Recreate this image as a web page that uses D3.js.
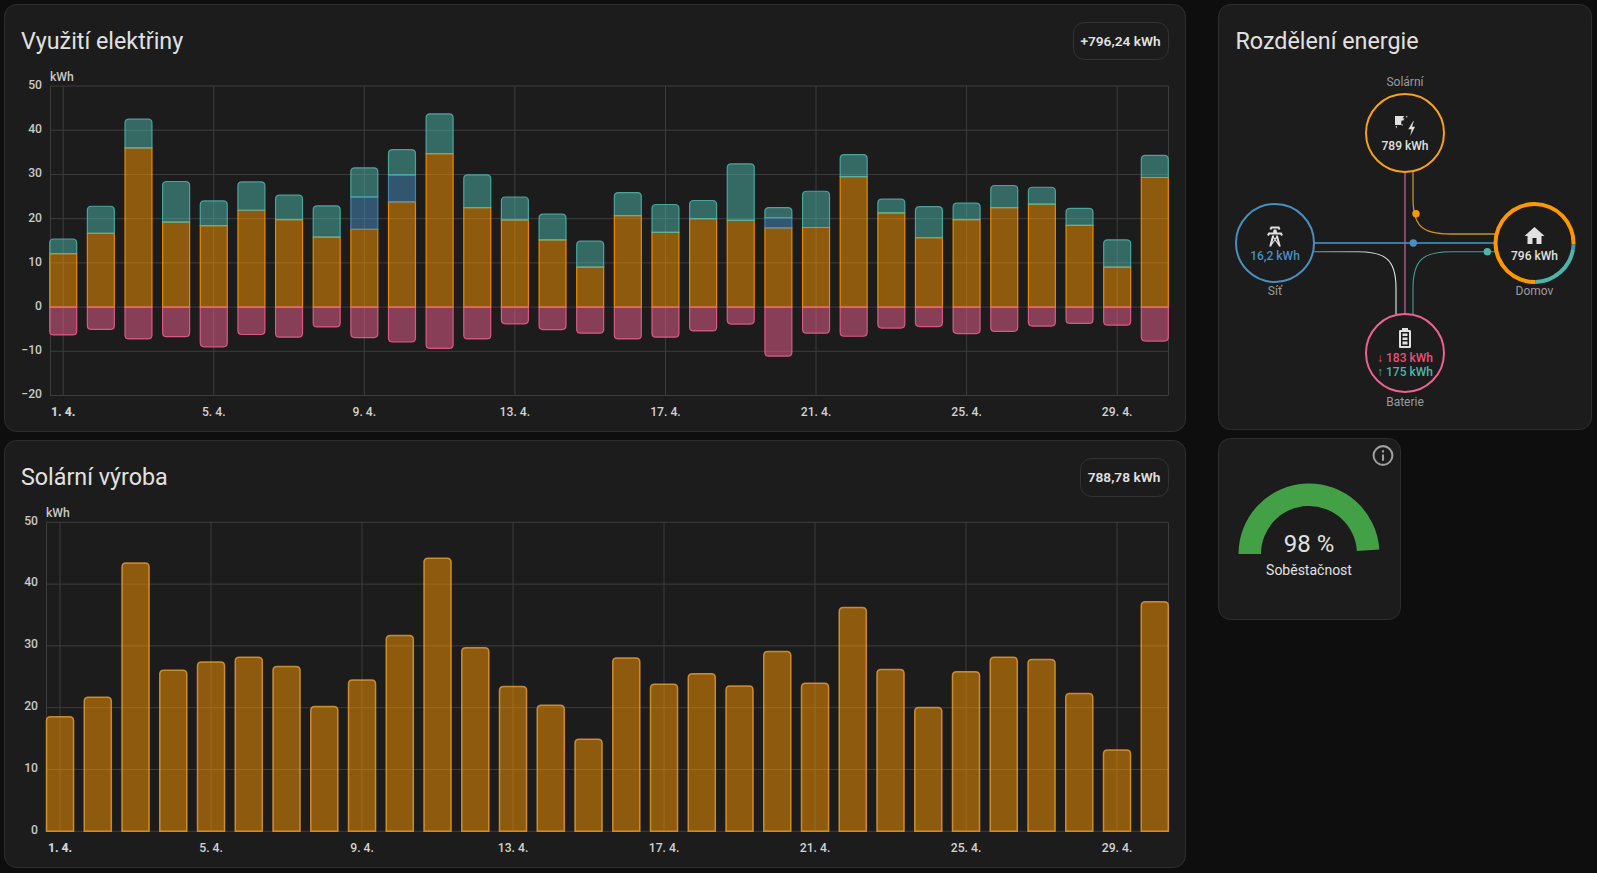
<!DOCTYPE html>
<html>
<head>
<meta charset="utf-8">
<script src="https://cdn.jsdelivr.net/npm/d3@7/dist/d3.min.js"></script>
<style>
  html, body { margin: 0; padding: 0; background: #0e0e0e; }
  svg { display: block; font-family: Roboto, sans-serif; }
  .domain { display: none; }
</style>
</head>
<body>
<svg width="1597" height="873"></svg>
<script>
var days = d3.range(1, 31).map(function (d) { return d + ". 4."; });
var tickDays = ["1. 4.", "5. 4.", "9. 4.", "13. 4.", "17. 4.", "21. 4.", "25. 4.", "29. 4."];

var solarToHome = [12.1, 16.7, 36.0, 19.2, 18.4, 21.9, 19.8, 15.8, 17.6, 23.8, 34.7, 22.5, 19.7, 15.2, 9.05,
  20.7, 16.9, 20.0, 19.6, 17.9, 18.0, 29.5, 21.3, 15.7, 19.8, 22.5, 23.3, 18.5, 9.05, 29.3];
var gridToHome = [0, 0, 0, 0, 0, 0, 0, 0, 7.3, 6.1, 0, 0, 0, 0, 0,
  0, 0, 0, 0, 2.3, 0, 0, 0, 0, 0, 0, 0, 0, 0, 0];
var batteryToHome = [3.3, 6.1, 6.5, 9.2, 5.6, 6.4, 5.5, 7.1, 6.6, 5.7, 9.0, 7.4, 5.2, 5.8, 5.85,
  5.2, 6.3, 4.1, 12.8, 2.3, 8.2, 5.0, 3.1, 7.0, 3.7, 5.0, 3.8, 3.8, 6.15, 5.0];
var batteryCharge = [-6.3, -5.05, -7.2, -6.7, -9.0, -6.2, -6.8, -4.5, -6.9, -7.9, -9.35, -7.2, -3.8, -5.1, -5.9,
  -7.2, -6.8, -5.4, -3.85, -11.1, -5.9, -6.6, -4.75, -4.4, -6.0, -5.5, -4.3, -3.7, -4.1, -7.7];
var solarProduction = [18.55, 21.7, 43.4, 26.05, 27.4, 28.15, 26.65, 20.2, 24.5, 31.7, 44.2, 29.7, 23.45, 20.4, 14.9,
  28.05, 23.8, 25.5, 23.5, 29.1, 23.95, 36.2, 26.2, 20.05, 25.8, 28.15, 27.8, 22.3, 13.15, 37.15];

var usageTicks = [-20, -10, 0, 10, 20, 30, 40, 50];
var solarTicks = [0, 10, 20, 30, 40, 50];
var homeShares = [16, 175, 605];
var gaugeValue = 98;

var colors = { solar: "#ff9800", grid: "#488fc2", battOut: "#4db6ac", battIn: "#f06292" };

var svg = d3.select("svg");

function card(x, y, w, h) {
  svg.append("rect")
    .attr("x", x + 0.5).attr("y", y + 0.5)
    .attr("width", w).attr("height", h)
    .attr("rx", 12)
    .attr("fill", "#1c1c1c")
    .attr("stroke", "#2e2e2e");
}

function title(x, y, s) {
  svg.append("text").attr("x", x).attr("y", y)
    .attr("font-size", 23.3).attr("fill", "#e1e1e1").text(s);
}

function chip(x, y, w, h, s) {
  svg.append("rect").attr("x", x + 0.5).attr("y", y + 0.5).attr("width", w).attr("height", h)
    .attr("rx", 11).attr("fill", "none").attr("stroke", "#333");
  svg.append("text").attr("x", x + w / 2).attr("y", y + h / 2 + 5)
    .attr("text-anchor", "middle").attr("font-size", 13.7).attr("font-weight", 600)
    .attr("fill", "#e1e1e1").text(s);
}

// rounded only on the outer end of the stack
function barPath(x, w, yA, yB, rounded) {
  var top = Math.min(yA, yB), bot = Math.max(yA, yB), p = d3.path();
  var r = rounded ? Math.min(4, (bot - top) / 2) : 0;
  if (yB <= yA) {
    p.moveTo(x, bot);
    p.lineTo(x, top + r);
    p.quadraticCurveTo(x, top, x + r, top);
    p.lineTo(x + w - r, top);
    p.quadraticCurveTo(x + w, top, x + w, top + r);
    p.lineTo(x + w, bot);
  } else {
    p.moveTo(x, top);
    p.lineTo(x, bot - r);
    p.quadraticCurveTo(x, bot, x + r, bot);
    p.lineTo(x + w - r, bot);
    p.quadraticCurveTo(x + w, bot, x + w, bot - r);
    p.lineTo(x + w, top);
  }
  p.closePath();
  return p.toString();
}

function axes(x, y, ticks, left, right, top, bottom, unitY, labelShift) {
  var g = svg.append("g");

  var yAxis = g.append("g")
    .attr("transform", "translate(" + left + ",0)")
    .call(d3.axisLeft(y).offset(0).tickValues(ticks).tickSize(-(right - left)).tickPadding(8).tickFormat(d3.format("d")));
  yAxis.selectAll("line").attr("stroke", "#3d3d3d");
  yAxis.selectAll("text").attr("fill", "#c8c8c8").attr("font-size", 12.2).attr("font-weight", 500)
    .attr("font-family", "Roboto").attr("y", -labelShift);

  var xAxis = g.append("g")
    .attr("transform", "translate(0," + bottom + ")")
    .call(d3.axisBottom(x).tickValues(tickDays).tickSize(-(bottom - top)).tickPadding(12));
  xAxis.selectAll("line").attr("stroke", "#3d3d3d");
  xAxis.selectAll("text").attr("fill", "#d2d2d2").attr("font-size", 12.2).attr("font-weight", function (d, i) { return i ? 500 : 800; })
    .attr("font-family", "Roboto");

  [left, right].forEach(function (v) {
    g.append("line").attr("x1", v + 0.5).attr("x2", v + 0.5).attr("y1", top).attr("y2", bottom).attr("stroke", "#3d3d3d");
  });

  g.append("text").attr("x", left).attr("y", unitY)
    .attr("font-size", 12.2).attr("font-weight", 500).attr("fill", "#c8c8c8").text("kWh");
}

/* ---- cards ---- */
card(4, 4, 1181, 427);
card(4, 440, 1181, 427);
card(1218, 4, 373, 425);
card(1218, 438, 182, 181);

title(21, 49, "Využití elektřiny");
chip(1073, 22, 95, 37, "+796,24 kWh");
title(21, 485, "Solární výroba");
chip(1080, 458, 88, 38, "788,78 kWh");
title(1235.5, 49, "Rozdělení energie");

/* ---- usage chart ---- */
var x1 = d3.scaleBand().domain(days).range([49.7, 1168.3]).paddingInner(0.283).paddingOuter(0);
var y1 = d3.scaleLinear().domain([-20, 50]).range([395.5, 86]);
axes(x1, y1, usageTicks, 50, 1168, 86, 395.5, 81, 1);

var rows = days.map(function (d, i) {
  return { day: d, solar: solarToHome[i], grid: gridToHome[i], battOut: batteryToHome[i] };
});
var stack = d3.stack().keys(["solar", "grid", "battOut"])(rows);

stack.forEach(function (layer) {
  svg.append("g")
    .attr("fill", colors[layer.key]).attr("fill-opacity", 0.5)
    .attr("stroke", colors[layer.key]).attr("stroke-width", 1.2).attr("stroke-opacity", 0.85)
    .selectAll("path")
    .data(layer.filter(function (d) { return d[1] > d[0]; }))
    .enter().append("path")
    .attr("d", function (d) {
      return barPath(x1(d.data.day), x1.bandwidth(), y1(d[0]), y1(d[1]), layer.key === "battOut");
    });
});

svg.append("g")
  .attr("fill", colors.battIn).attr("fill-opacity", 0.5)
  .attr("stroke", colors.battIn).attr("stroke-width", 1.2).attr("stroke-opacity", 0.85)
  .selectAll("path")
  .data(batteryCharge)
  .enter().append("path")
  .attr("d", function (d, i) {
    return barPath(x1(days[i]), x1.bandwidth(), y1(0), y1(d), true);
  });

/* ---- solar chart ---- */
var x2 = d3.scaleBand().domain(days).range([46.5, 1168.3]).paddingInner(0.283).paddingOuter(0);
var y2 = d3.scaleLinear().domain([0, 50]).range([831.3, 522.3]);
axes(x2, y2, solarTicks, 46, 1168, 522.3, 831.3, 517, 1.7);

svg.append("g")
  .attr("fill", colors.solar).attr("fill-opacity", 0.5)
  .attr("stroke", "#f2a63c").attr("stroke-width", 1.5).attr("stroke-opacity", 0.75)
  .selectAll("path")
  .data(solarProduction)
  .enter().append("path")
  .attr("d", function (d, i) {
    return barPath(x2(days[i]), x2.bandwidth(), y2(0), y2(d), true);
  });

/* ---- energy distribution ---- */
var nodes = {
  solar: { x: 1405, y: 133 },
  grid: { x: 1275, y: 243 },
  home: { x: 1534.5, y: 243 },
  batt: { x: 1405, y: 353 }
};
var R = 39;
var flows = svg.append("g").attr("fill", "none");

var gridGrad = svg.append("defs").append("linearGradient").attr("id", "gridBatt");
gridGrad.append("stop").attr("offset", "0%").attr("stop-color", "#8c8c8c");
gridGrad.append("stop").attr("offset", "100%").attr("stop-color", "#e8e8e8");

flows.append("path").attr("stroke", "#a8507a").attr("stroke-width", 1.6)
  .attr("d", "M" + nodes.solar.x + "," + (nodes.solar.y + R) + "V" + (nodes.batt.y - R));
flows.append("path").attr("stroke", colors.grid).attr("stroke-width", 2).attr("stroke-opacity", 0.8)
  .attr("d", "M" + (nodes.grid.x + R) + "," + nodes.grid.y + "H" + (nodes.home.x - R));
flows.append("path").attr("stroke", "#c98f2c").attr("stroke-width", 1.3)
  .attr("d", "M1413,172V198C1413,226 1422,234 1450,234H1496");
flows.append("path").attr("stroke", "url(#gridBatt)").attr("stroke-width", 1.1)
  .attr("d", "M1314,251.7H1358C1386,251.7 1396,260 1396,288V314");
flows.append("path").attr("stroke", "#4db6ac").attr("stroke-width", 1.1).attr("stroke-opacity", 0.85)
  .attr("d", "M1413,314V288C1413,260 1423,251.7 1451,251.7H1496");

[[1416, 213.7, colors.solar], [1413.3, 243, colors.grid], [1487.3, 251.7, colors.battOut]].forEach(function (d) {
  svg.append("circle").attr("cx", d[0]).attr("cy", d[1]).attr("r", 3.7).attr("fill", d[2]);
});

[["solar", "#f9a01c"], ["grid", colors.grid], ["batt", colors.battIn]].forEach(function (d) {
  svg.append("circle").attr("cx", nodes[d[0]].x).attr("cy", nodes[d[0]].y).attr("r", R)
    .attr("fill", "#1c1c1c").attr("stroke", d[1]).attr("stroke-width", 2);
});

svg.append("circle").attr("cx", nodes.home.x).attr("cy", nodes.home.y).attr("r", R).attr("fill", "#1c1c1c");
var pie = d3.pie().sort(null).startAngle(Math.PI * 0.511).endAngle(Math.PI * 2.511);
var ring = d3.arc().innerRadius(R - 2).outerRadius(R + 2);
svg.append("g").attr("transform", "translate(" + nodes.home.x + "," + nodes.home.y + ")")
  .selectAll("path").data(pie(homeShares)).enter().append("path")
  .attr("d", ring)
  .attr("fill", function (d, i) { return [colors.grid, colors.battOut, colors.solar][i]; });

function label(x, y, s, fill, weight) {
  svg.append("text").attr("x", x).attr("y", y).attr("text-anchor", "middle")
    .attr("font-size", 12).attr("font-weight", weight || 400).attr("fill", fill).text(s);
}

label(1405, 86, "Solární", "#9b9b9b");
label(1405, 150, "789 kWh", "#e1e1e1", 500);
label(1275, 259.5, "16,2 kWh", colors.grid, 500);
label(1275, 295, "Síť", "#9b9b9b");
label(1534.5, 259.5, "796 kWh", "#e1e1e1", 500);
label(1534.5, 295, "Domov", "#9b9b9b");
label(1405, 362, "↓ 183 kWh", "#ec4f78", 500);
label(1405, 376, "↑ 175 kWh", colors.battOut, 500);
label(1405, 406, "Baterie", "#9b9b9b");

function icon(x, y, size, d, fill) {
  svg.append("path").attr("d", d).attr("fill", fill || "#e1e1e1")
    .attr("transform", "translate(" + (x - size / 2) + "," + (y - size / 2) + ") scale(" + size / 24 + ")");
}

// solar panel with a bolt
icon(1405, 125, 24, "M2,3H11L9.5,6L11.5,5L10.5,7.5L8.5,7.5L8,12L2,12Z M12.5,3.5L14.5,3L14,4.8Z M2.5,13.5L4,13L3.5,15.5Z M8,11.5L9.5,11L9.5,13Z M20.3,8L15.3,16.3H18.6L17.3,23L22,13.7H19L20.8,8Z");
icon(1275, 236.5, 24, "M8.28,5.45L6.5,4.55L7.76,2H16.23L17.5,4.55L15.72,5.44L15,4H9L8.28,5.45M18.62,8H14.09L13.3,5H10.7L9.91,8H5.38L4.1,10.55L5.89,11.44L6.62,10H17.38L18.1,11.45L19.89,10.56L18.62,8M17.77,22H15.7L15.46,21.1L12,15.9L8.53,21.1L8.3,22H6.23L9.12,11H11.19L10.83,12.35L12,14.1L13.16,12.35L12.81,11H14.88L17.77,22M11.4,15L10.5,13.65L9.32,18.13L11.4,15M14.68,18.12L13.5,13.64L12.6,15L14.68,18.12Z");
icon(1534.5, 236, 24, "M10,20V14H14V20H19V12H22L12,3L2,12H5V20H10Z");
icon(1405, 338, 24, "M16,20H8V6H16M16.67,4H15V2H9V4H7.33A1.33,1.33 0 0,0 6,5.33V20.67C6,21.4 6.6,22 7.33,22H16.67A1.33,1.33 0 0,0 18,20.67V5.33C18,4.6 17.4,4 16.67,4M9.5,7.5H14.5V10H9.5ZM9.5,11.5H14.5V14H9.5ZM9.5,15.5H14.5V18.5H9.5Z");

/* ---- gauge ---- */
var gaugeArc = d3.arc().innerRadius(48).outerRadius(70.5)
  .startAngle(-Math.PI / 2)
  .endAngle(-Math.PI / 2 + Math.PI * gaugeValue / 100);
svg.append("path").attr("transform", "translate(1309,554)").attr("d", gaugeArc()).attr("fill", "#43a047");
svg.append("text").attr("x", 1309).attr("y", 552).attr("text-anchor", "middle")
  .attr("font-size", 24).attr("fill", "#e1e1e1").text(gaugeValue + " %");
svg.append("text").attr("x", 1309).attr("y", 575).attr("text-anchor", "middle")
  .attr("font-size", 14).attr("fill", "#e1e1e1").text("Soběstačnost");
icon(1383, 455.5, 25, "M11,9H13V7H11M12,20C7.59,20 4,16.41 4,12C4,7.59 7.59,4 12,4C16.41,4 20,7.59 20,12C20,16.41 16.41,20 12,20M12,2A10,10 0 0,0 2,12A10,10 0 0,0 12,22A10,10 0 0,0 22,12A10,10 0 0,0 12,2M11,17H13V11H11V17Z", "#a0a0a0");
</script>
</body>
</html>
